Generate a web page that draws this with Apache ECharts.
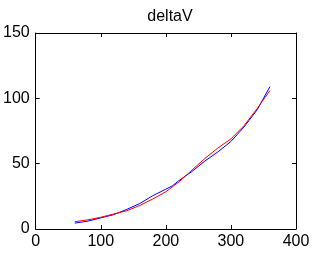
<!DOCTYPE html>
<html><head><meta charset="utf-8">
<script src="https://cdn.jsdelivr.net/npm/echarts@6/dist/echarts.min.js"></script>
<style>html,body{margin:0;padding:0;background:#fff}#c{width:318px;height:254px}</style>
</head><body><div id="c"></div>
<script>
const title = 'deltaV';
const blueX = [60, 80, 100, 120, 140, 160, 180, 200, 210, 220, 240, 260, 280, 300, 320, 340, 360];
const blueY = [4.5, 6, 8.5, 11, 15, 19.5, 25.5, 30.5, 33, 37, 44, 52, 59, 67, 78, 91, 109];
const redX = [60, 80, 100, 120, 140, 160, 180, 200, 220, 240, 260, 280, 300, 320, 340, 360];
const redY = [5.6, 7, 9, 11.5, 14, 18, 23, 28.5, 36, 45, 54, 62, 69, 79, 92, 106];

const font = 'Liberation Sans, Arial, sans-serif';
const chart = echarts.init(document.getElementById('c'), null, {renderer: 'canvas'});
const axLine = {show: true, onZero: false, lineStyle: {color: '#000', width: 1}};
const tick = {show: true, inside: true, length: 4, lineStyle: {color: '#000'}};
chart.setOption({
  animation: false,
  backgroundColor: '#fff',
  title: {text: title, left: 165, top: 4, textAlign: 'center',
    textStyle: {fontFamily: font, fontSize: 16, fontWeight: 'normal', color: '#000'}},
  grid: {left: 34, right: 22, top: 33, bottom: 25},
  xAxis: [
    {type: 'value', min: 0, max: 400, interval: 100, position: 'bottom',
     axisLine: axLine, axisTick: tick, splitLine: {show: false},
     axisLabel: {fontFamily: font, fontSize: 16, color: '#000', margin: 5}},
    {type: 'value', min: 0, max: 400, interval: 100, position: 'top',
     axisLine: axLine, axisTick: tick, splitLine: {show: false}, axisLabel: {show: false}}
  ],
  yAxis: [
    {type: 'value', min: 0, max: 150, interval: 50, position: 'left',
     axisLine: axLine, axisTick: tick, splitLine: {show: false},
     axisLabel: {fontFamily: font, fontSize: 16, color: '#000', margin: 6}},
    {type: 'value', min: 0, max: 150, interval: 50, position: 'right',
     axisLine: axLine, axisTick: tick, splitLine: {show: false}, axisLabel: {show: false}}
  ],
  series: [
    {type: 'line', data: blueX.map((x, i) => [x, blueY[i]]), showSymbol: false,
     lineStyle: {color: '#0000ff', width: 1}, itemStyle: {color: '#0000ff'}},
    {type: 'line', data: redX.map((x, i) => [x, redY[i]]), showSymbol: false,
     lineStyle: {color: '#ff0000', width: 1}, itemStyle: {color: '#ff0000'}}
  ]
});
</script></body></html>
